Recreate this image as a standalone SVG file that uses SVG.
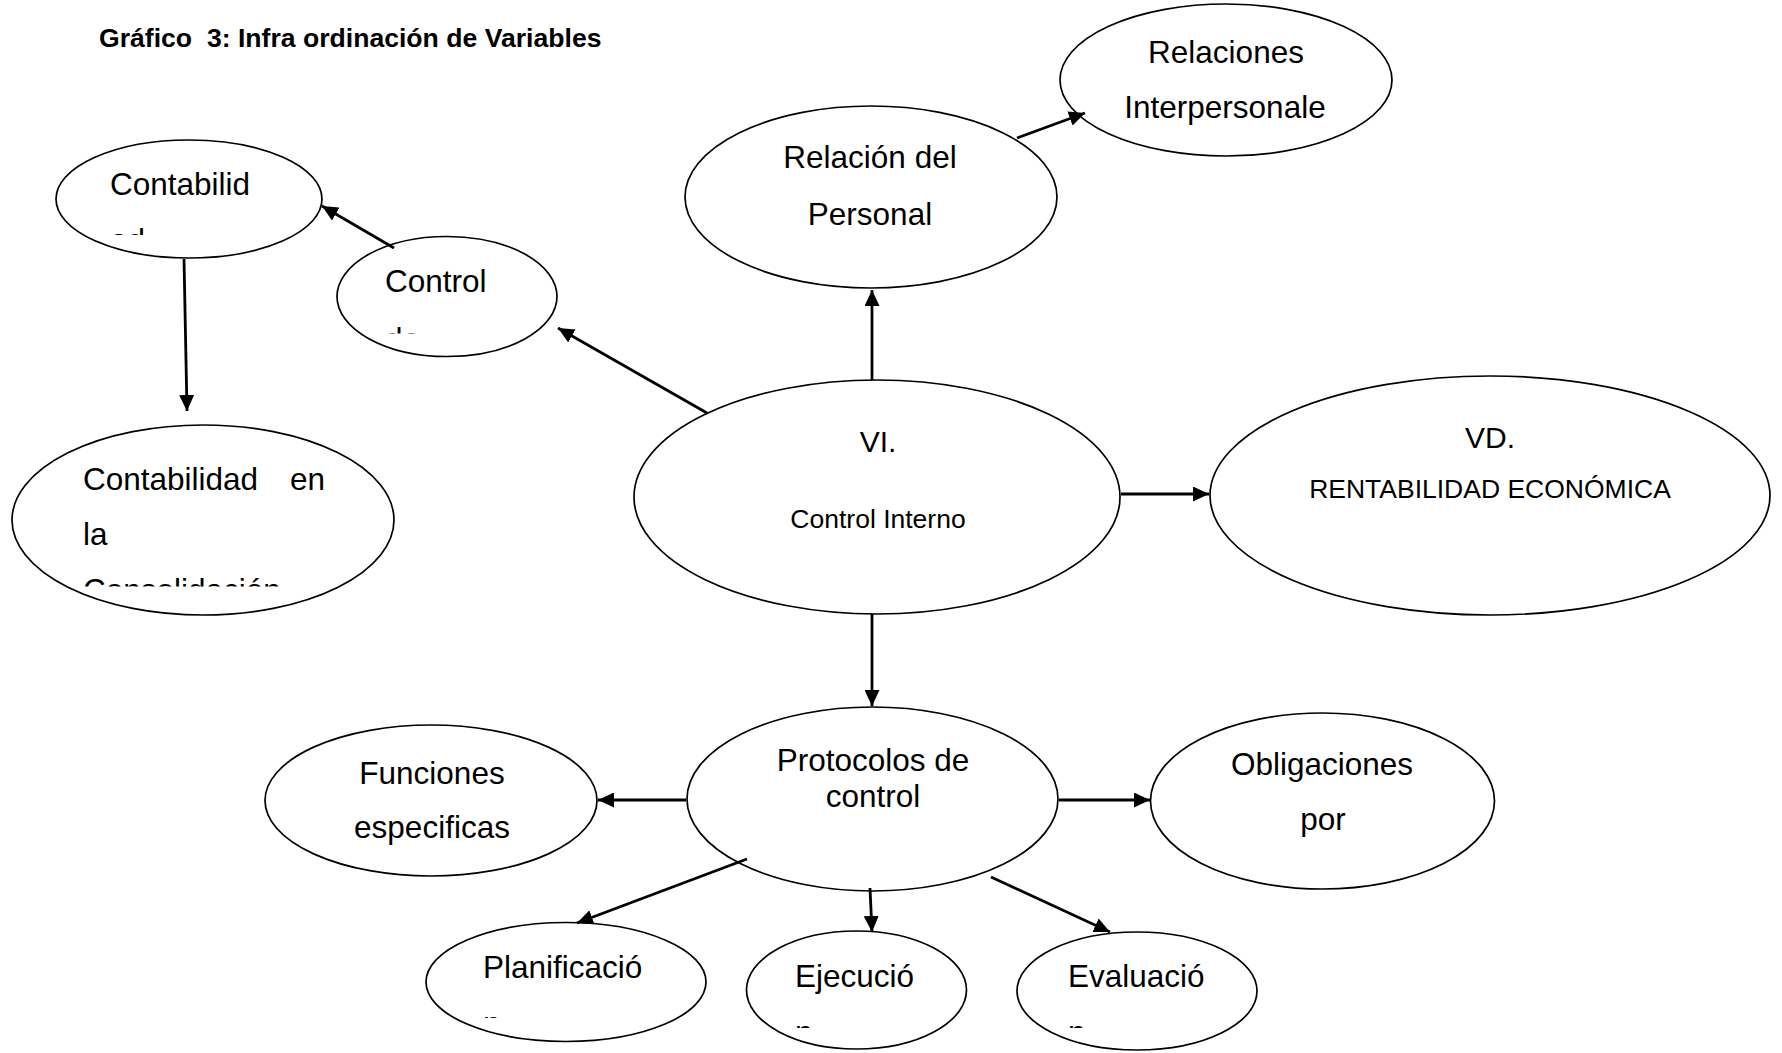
<svg xmlns="http://www.w3.org/2000/svg" width="1782" height="1053" viewBox="0 0 1782 1053">
  <style>
    .node ellipse { fill: #ffffff; stroke: #000000; stroke-width: 1.7; }
    text { font-family: "Liberation Sans", Arial, Helvetica, sans-serif; fill: #000000; }
    .lbl { font-size: 31.5px; }
    .sm { font-size: 26.5px; }
    .mid { font-size: 30px; }
    .title { font-size: 26.6px; font-weight: bold; white-space: pre; }
    .edge { stroke: #000000; stroke-width: 2.8; fill: none; marker-end: url(#arrow); }
  </style>
  <defs>
    <marker id="arrow" markerUnits="userSpaceOnUse" markerWidth="17" markerHeight="15" refX="16" refY="7.5" orient="auto">
      <path d="M0,0 L16,7.5 L0,15 z" fill="#000000"/>
    </marker>
    <!-- text boxes that cut off their overflowing lines -->
    <clipPath id="clip-contabilid" clipPathUnits="userSpaceOnUse"><rect x="56" y="140" width="266" height="95"/></clipPath>
    <clipPath id="clip-control" clipPathUnits="userSpaceOnUse"><rect x="337" y="237" width="220" height="96.5"/></clipPath>
    <clipPath id="clip-consolidacion" clipPathUnits="userSpaceOnUse"><rect x="12" y="425" width="382" height="161.5"/></clipPath>
    <clipPath id="clip-planificacion" clipPathUnits="userSpaceOnUse"><rect x="426" y="923" width="280" height="95"/></clipPath>
    <clipPath id="clip-ejecucion" clipPathUnits="userSpaceOnUse"><rect x="747" y="932" width="220" height="96"/></clipPath>
    <clipPath id="clip-evaluacion" clipPathUnits="userSpaceOnUse"><rect x="1017" y="932" width="241" height="96"/></clipPath>
  </defs>

  <rect x="0" y="0" width="1782" height="1053" fill="#ffffff"/>

  <text class="title" x="99" y="46.5" xml:space="preserve">Gráfico  3: Infra ordinación de Variables</text>

  <g id="n-contabilidad" class="node">
    <ellipse cx="189" cy="199" rx="133" ry="59"/>
    <g clip-path="url(#clip-contabilid)">
      <text class="lbl" x="110" y="195">Contabilid</text>
      <text class="lbl" x="110" y="251">ad</text>
    </g>
  </g>

  <g id="n-control-de" class="node">
    <ellipse cx="447" cy="296.5" rx="110" ry="60"/>
    <g clip-path="url(#clip-control)">
      <text class="lbl" x="385" y="292">Control</text>
      <text class="lbl" x="385" y="349.5">de</text>
    </g>
  </g>

  <g id="n-contabilidad-consolidacion" class="node">
    <ellipse cx="203" cy="520" rx="191" ry="95"/>
    <g clip-path="url(#clip-consolidacion)">
      <text class="lbl" x="83" y="490">Contabilidad</text>
      <text class="lbl" x="290" y="490">en</text>
      <text class="lbl" x="83" y="545">la</text>
      <text class="lbl" x="83" y="600.5">Consolidación</text>
    </g>
  </g>

  <g id="n-relacion-personal" class="node">
    <ellipse cx="871" cy="197" rx="186" ry="91"/>
    <text class="lbl" x="870" y="168" text-anchor="middle">Relación del</text>
    <text class="lbl" x="870" y="225" text-anchor="middle">Personal</text>
  </g>

  <g id="n-relaciones" class="node">
    <ellipse cx="1226" cy="80" rx="166" ry="76"/>
    <text class="lbl" x="1226" y="63" text-anchor="middle">Relaciones</text>
    <text class="lbl" x="1225" y="118" text-anchor="middle">Interpersonale</text>
  </g>

  <g id="n-vi" class="node">
    <ellipse cx="877" cy="497" rx="243" ry="117"/>
    <text class="mid" x="878" y="452" text-anchor="middle">VI.</text>
    <text class="sm" x="878" y="528" text-anchor="middle">Control Interno</text>
  </g>

  <g id="n-vd" class="node">
    <ellipse cx="1490" cy="495.5" rx="280" ry="119.5"/>
    <text class="mid" x="1490" y="448" text-anchor="middle">VD.</text>
    <text class="sm" x="1490" y="498" text-anchor="middle">RENTABILIDAD ECONÓMICA</text>
  </g>

  <g id="n-protocolos" class="node">
    <ellipse cx="872.5" cy="799" rx="185.5" ry="92"/>
    <text class="lbl" x="873" y="771" text-anchor="middle">Protocolos de</text>
    <text class="lbl" x="873" y="807" text-anchor="middle">control</text>
  </g>

  <g id="n-funciones" class="node">
    <ellipse cx="431" cy="800.5" rx="166" ry="75.5"/>
    <text class="lbl" x="432" y="784" text-anchor="middle">Funciones</text>
    <text class="lbl" x="432" y="838" text-anchor="middle">especificas</text>
  </g>

  <g id="n-obligaciones" class="node">
    <ellipse cx="1322.5" cy="801" rx="172" ry="88"/>
    <text class="lbl" x="1322" y="775" text-anchor="middle">Obligaciones</text>
    <text class="lbl" x="1323" y="830" text-anchor="middle">por</text>
  </g>

  <g id="n-planificacion" class="node">
    <ellipse cx="566" cy="982" rx="140" ry="59.5"/>
    <g clip-path="url(#clip-planificacion)">
      <text class="lbl" x="483" y="978">Planificació</text>
      <text class="lbl" x="483" y="1034">n</text>
    </g>
  </g>

  <g id="n-ejecucion" class="node">
    <ellipse cx="856.5" cy="990" rx="110" ry="59"/>
    <g clip-path="url(#clip-ejecucion)">
      <text class="lbl" x="795" y="987">Ejecució</text>
      <text class="lbl" x="795" y="1043">n</text>
    </g>
  </g>

  <g id="n-evaluacion" class="node">
    <ellipse cx="1137" cy="991" rx="120" ry="59"/>
    <g clip-path="url(#clip-evaluacion)">
      <text class="lbl" x="1068" y="987">Evaluació</text>
      <text class="lbl" x="1068" y="1043">n</text>
    </g>
  </g>

  <g id="connectors">
    <path class="edge" d="M394,248 L322,206"/>
    <path class="edge" d="M707,413 L558,328"/>
    <path class="edge" d="M184,259 L187,411"/>
    <path class="edge" d="M872,380 L872,290"/>
    <path class="edge" d="M1017,138 L1085,113"/>
    <path class="edge" d="M1121,494 L1209,494"/>
    <path class="edge" d="M872,614 L872,706"/>
    <path class="edge" d="M686,800 L598,800"/>
    <path class="edge" d="M1059,800 L1150,800"/>
    <path class="edge" d="M747,859 L577,923"/>
    <path class="edge" d="M870,888 L872,932"/>
    <path class="edge" d="M991,877 L1110,932"/>
  </g>
</svg>
